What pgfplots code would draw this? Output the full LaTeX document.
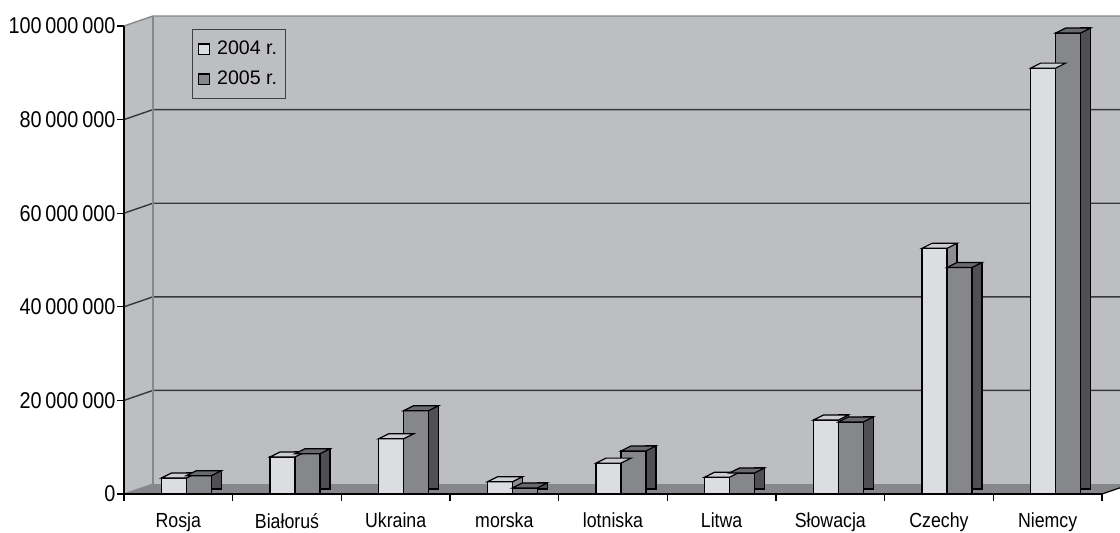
\documentclass[border=0pt]{standalone}
\usepackage{fontspec}
\setmainfont{Liberation Sans}[FakeStretch=0.87]
\newfontfamily\legfont{Liberation Sans}
\usepackage{pgfplots}
\pgfplotsset{compat=1.18}
\usepackage{pgfplotstable}

\definecolor{wall}{RGB}{189,190,194}
\definecolor{floorc}{RGB}{134,135,139}
\definecolor{gridc}{RGB}{55,55,58}
\definecolor{edgec}{RGB}{135,136,140}
\definecolor{front04}{RGB}{220,221,224}
\definecolor{top04}{RGB}{205,206,209}
\definecolor{side04}{RGB}{140,141,145}
\definecolor{front05}{RGB}{134,135,139}
\definecolor{top05}{RGB}{105,106,110}
\definecolor{side05}{RGB}{80,80,84}

\pgfdeclareplotmark{topA}{%
  \pgfpathmoveto{\pgfpoint{-8.5pt}{0pt}}%
  \pgfpathlineto{\pgfpoint{4pt}{0pt}}%
  \pgfpathlineto{\pgfpoint{9pt}{2.5pt}}%
  \pgfpathlineto{\pgfpoint{-3.5pt}{2.5pt}}%
  \pgfpathclose
  \pgfusepathqfillstroke}
\pgfdeclareplotmark{topB}{%
  \pgfpathmoveto{\pgfpoint{4pt}{0pt}}%
  \pgfpathlineto{\pgfpoint{16.5pt}{0pt}}%
  \pgfpathlineto{\pgfpoint{21.5pt}{2.5pt}}%
  \pgfpathlineto{\pgfpoint{9pt}{2.5pt}}%
  \pgfpathclose
  \pgfusepathqfillstroke}

\pgfplotstableread{
x v2004 v2005
0 3400000 3900000
1 7900000 8600000
2 11800000 17800000
3 2600000 1300000
4 6600000 9200000
5 3600000 4500000
6 15800000 15400000
7 52500000 48400000
8 91000000 98500000
}\datatable

\begin{document}
\begin{tikzpicture}
\useasboundingbox (-62pt,-19pt) rectangle (498pt,247pt);
% walls and floor
\fill[wall] (0pt,0pt) -- (14.5pt,5pt) -- (14.5pt,239pt) -- (0pt,234pt) -- cycle;
\fill[wall] (14.5pt,5pt) rectangle (510pt,239pt);
\fill[floorc] (0pt,0pt) -- (14.5pt,5pt) -- (503.5pt,5pt) -- (489pt,0pt) -- cycle;
\foreach \v in {20,40,60,80} {
  \draw[gridc, line width=0.7pt] (0pt,{\v*2.34pt}) -- (14.5pt,{5pt+\v*2.34pt}) -- (510pt,{5pt+\v*2.34pt});
}
\draw[edgec, line width=0.7pt] (0pt,234pt) -- (14.5pt,239pt) -- (510pt,239pt);
\draw[edgec, line width=0.7pt] (14.5pt,5pt) -- (14.5pt,239pt);
\draw[edgec, line width=0.6pt] (0pt,0pt) -- (14.5pt,5pt);
\draw[black, line width=0.6pt] (489pt,0pt) -- (503.5pt,5pt);

\begin{axis}[
  at={(0pt,0pt)}, anchor=south west,
  scale only axis, width=489pt, height=234pt,
  xmin=-0.5, xmax=8.5, ymin=0, ymax=100000000,
  clip=false,
  axis x line*=bottom, axis y line*=left,
  axis line style={black, line width=0.6pt, -},
  tick style={black, line width=0.6pt},
  tick align=outside,
  major tick length=3.25pt,
  scaled y ticks=false,
  ytick={0,20000000,40000000,60000000,80000000,100000000},
  yticklabels={0,20\,000\,000,40\,000\,000,60\,000\,000,80\,000\,000,100\,000\,000},
  yticklabel style={font=\fontsize{11.4}{13}\selectfont, xshift=2.5pt},
  xtick={-0.5,0.5,1.5,2.5,3.5,4.5,5.5,6.5,7.5,8.5},
  xticklabels={,,,,,,,,,,},
  extra x ticks={0,1,2,3,4,5,6,7,8},
  extra x tick labels={Rosja,Białoruś,Ukraina,morska,lotniska,Litwa,Słowacja,Czechy,Niemcy},
  extra x tick style={major tick length=0pt, xticklabel style={font=\fontsize{10.2}{12}\selectfont, yshift=-6pt}},
  legend style={at={(0.0695,0.993)}, anchor=north west, draw={rgb,255:red,64;green,64;blue,64},
    fill=none, line width=0.6pt, font=\legfont\fontsize{9.8}{11}\selectfont, row sep=2.7pt,
    column sep=2pt, inner ysep=3.45pt, inner xsep=2.6pt, nodes={inner xsep=1.6pt}},
  legend cell align=left,
]
% 2004
\addplot[ybar, bar width=5pt, bar shift=6.5pt, yshift=2.5pt, fill=side04, draw=black, line width=0.6pt, forget plot]
  table[x=x,y=v2004]{\datatable};
\addplot[only marks, mark=topA, mark options={fill=top04, draw=black, line width=0.6pt}, forget plot]
  table[x=x,y=v2004]{\datatable};
\addplot[ybar, bar width=12.5pt, bar shift=-2.25pt, fill=front04, draw=black, line width=0.6pt,
  legend image code/.code={\draw[fill=front04, draw=black, line width=0.6pt] (2.5pt,-2.6pt) rectangle (8pt,2.6pt);}]
  table[x=x,y=v2004]{\datatable};
\addlegendentry{2004 r.}
% 2005
\addplot[ybar, bar width=5pt, bar shift=19pt, yshift=2.5pt, fill=side05, draw=black, line width=0.6pt, forget plot]
  table[x=x,y=v2005]{\datatable};
\addplot[only marks, mark=topB, mark options={fill=top05, draw=black, line width=0.6pt}, forget plot]
  table[x=x,y=v2005]{\datatable};
\addplot[ybar, bar width=12.5pt, bar shift=10.25pt, fill=front05, draw=black, line width=0.6pt,
  legend image code/.code={\draw[fill=front05, draw=black, line width=0.6pt] (2.5pt,-2.6pt) rectangle (8pt,2.6pt);}]
  table[x=x,y=v2005]{\datatable};
\addlegendentry{2005 r.}
\end{axis}
\end{tikzpicture}
\end{document}
